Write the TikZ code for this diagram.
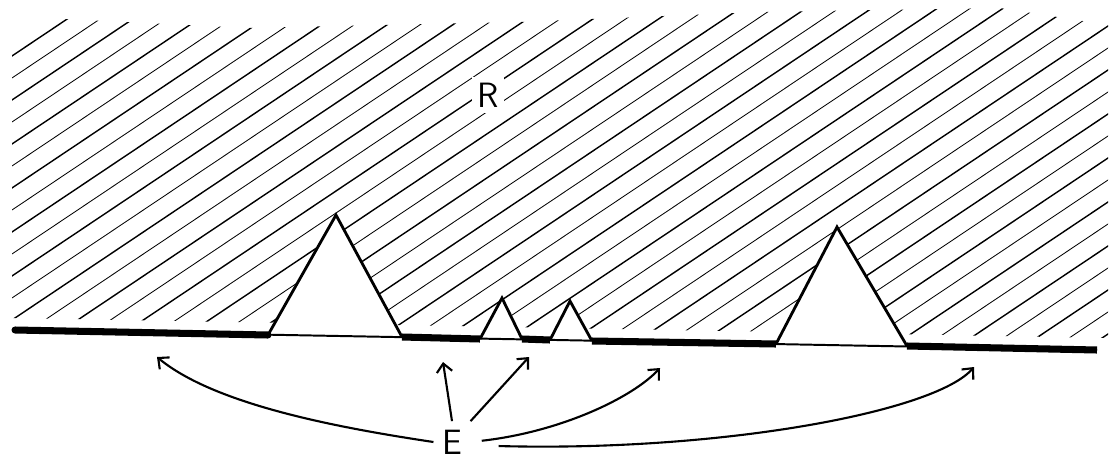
\documentclass[tikz,border=0pt]{standalone}
\usetikzlibrary{arrows.meta}
\newcommand{\peakTri}[3]{%
  \fill[white] (#1) -- (#2) -- (#3) -- cycle;
  \draw[side] (#1) -- (#2) -- (#3);}
\begin{document}
\begin{tikzpicture}[x=0.025cm,y=-0.025cm,
  hatch/.style={line width=1pt,line cap=round},
  fainthatch/.style={line width=0.6pt,line cap=round},
  ground/.style={line width=1.4pt},
  edgeset/.style={line width=5pt},
  side/.style={line width=2pt,line join=miter},
  pointer/.style={line width=1.5pt,-{Straight Barb[length=6pt,width=11pt]}},
  letter/.style={font=\fontsize{25}{25}\selectfont\sffamily}]
  \path[use as bounding box] (0,0) rectangle (1119,461);
  \begin{scope}
    \clip (12,50) -- (45,18) -- (250,28) -- (520,22) -- (760,12) -- (1000,8) -- (1108,25) -- (1108,338) -- (12,318) -- cycle;
    \foreach \k in {20,64,...,1120}
      \draw[hatch] (0,\k) -- ++(1120,-750);
    \foreach \k in {42,86,...,1120}
      \draw[fainthatch] (0,\k) -- ++(1120,-750);
  \end{scope}
  \coordinate (b0) at (15,330);
  \coordinate (b1) at (268,335);
  \coordinate (b2) at (402,337);
  \coordinate (b3) at (480,339);
  \coordinate (b4) at (522,339);
  \coordinate (b5) at (550,340);
  \coordinate (b6) at (592,341);
  \coordinate (b7) at (776,344);
  \coordinate (b8) at (907,346);
  \coordinate (b9) at (1097,350);
  \coordinate (p1) at (336,215);
  \coordinate (p2) at (502,298);
  \coordinate (p3) at (570,301);
  \coordinate (p4) at (837,227);
  \peakTri{b1}{p1}{b2}
  \peakTri{b3}{p2}{b4}
  \peakTri{b5}{p3}{b6}
  \peakTri{b7}{p4}{b8}
  \draw[ground] (b0) -- (b9);
  \draw[edgeset,line cap=round] (b0) -- (b1);
  \foreach \a/\b in {b2/b3,b4/b5,b6/b7,b8/b9}
    \draw[edgeset] (\a) -- (\b);
  \node[letter,fill=white,inner sep=4pt] (R) at (488,95) {R};
  \node[letter,inner sep=6pt] (E) at (452,442) {E};
  \coordinate (t1) at (157,357);
  \coordinate (t2) at (443,362);
  \coordinate (t3) at (529,357);
  \coordinate (t4) at (660,368);
  \coordinate (t5) at (974,367);
  \draw[pointer] (E.west) .. controls (340,428) and (215,405) .. (t1);
  \draw[pointer] (E.north) -- (t2);
  \draw[pointer] (E.north east) -- (t3);
  \draw[pointer,shorten <=8pt] (E.east) .. controls (560,432) and (632,398) .. (t4);
  \draw[pointer,shorten <=20pt] (E.-10) .. controls (720,452) and (935,412) .. (t5);
\end{tikzpicture}
\end{document}
